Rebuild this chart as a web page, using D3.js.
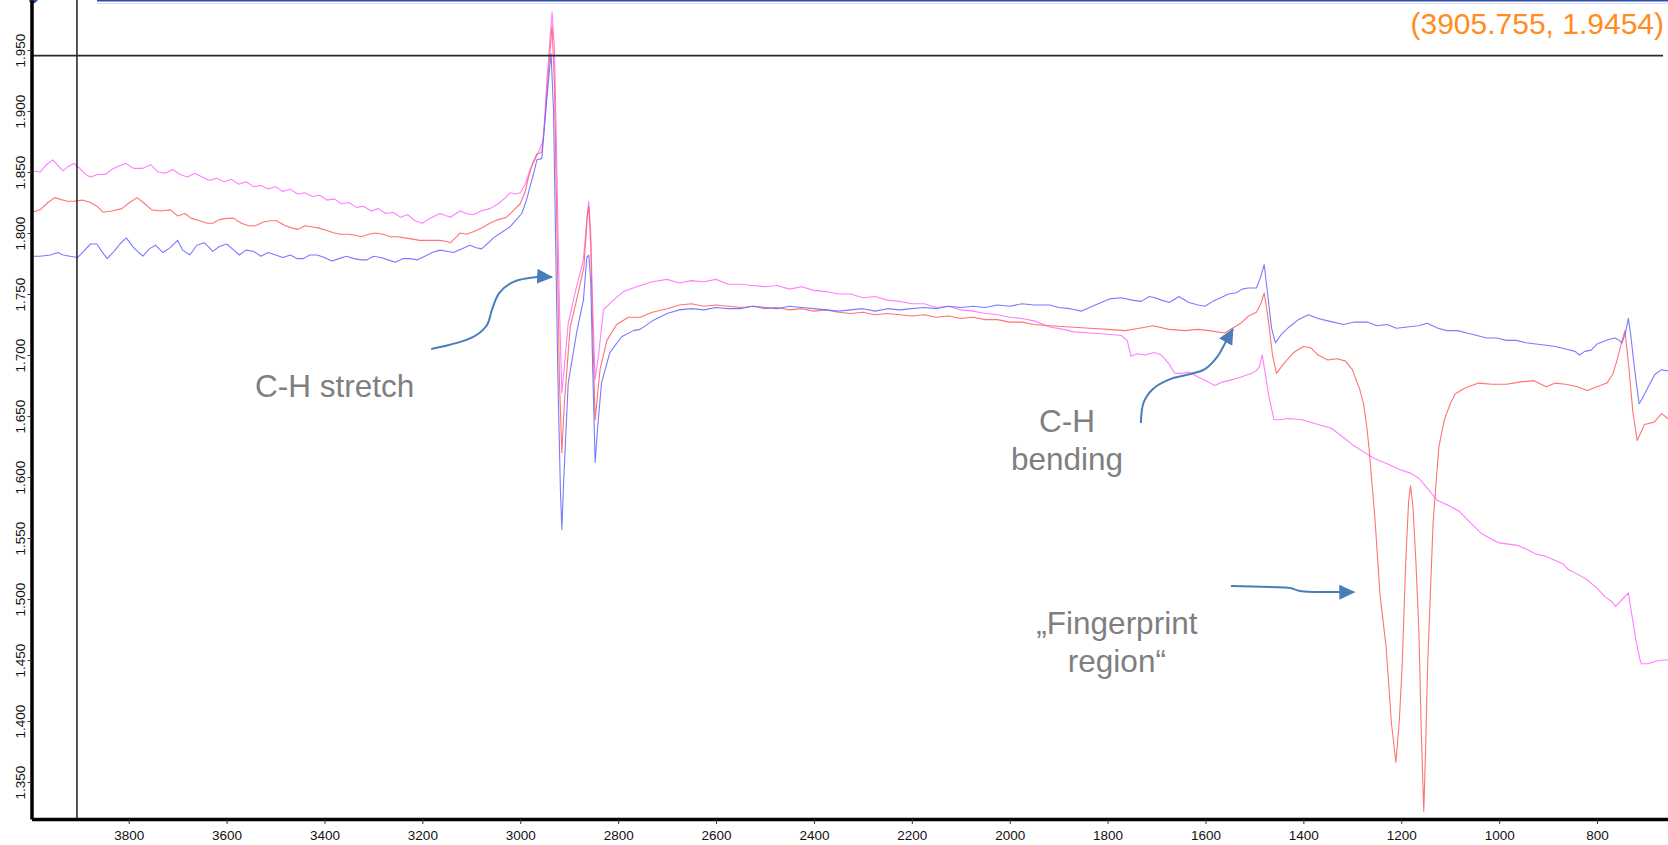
<!DOCTYPE html>
<html>
<head>
<meta charset="utf-8">
<script src="https://d3js.org/d3.v7.min.js"></script>
<style>
  body { margin: 0; background: #fff; }
  svg { display: block; font-family: "Liberation Sans", Arial, sans-serif; }
</style>
</head>
<body>
<svg id="chart" width="1668" height="845"></svg>
<script>
// IR spectra, [wavenumber cm-1, absorbance]
const sampleMagenta = [
  [3998,1.851],[3981,1.850],[3968,1.856],[3955,1.860],[3944,1.855],[3934,1.851],[3922,1.855],[3912,1.857],
  [3900,1.853],[3888,1.848],[3878,1.846],[3863,1.848],[3848,1.848],[3835,1.852],[3820,1.855],[3806,1.857],
  [3790,1.853],[3771,1.853],[3755,1.856],[3740,1.850],[3725,1.849],[3710,1.852],[3695,1.848],[3680,1.846],
  [3665,1.849],[3650,1.846],[3635,1.843],[3620,1.845],[3605,1.842],[3590,1.844],[3575,1.840],[3560,1.842],
  [3545,1.838],[3530,1.839],[3515,1.836],[3500,1.838],[3485,1.834],[3470,1.836],[3455,1.832],[3440,1.833],
  [3425,1.830],[3410,1.831],[3395,1.827],[3380,1.828],[3365,1.824],[3350,1.825],[3335,1.821],[3320,1.822],
  [3305,1.818],[3290,1.820],[3275,1.816],[3260,1.817],[3245,1.813],[3230,1.815],[3215,1.810],[3200,1.808],
  [3185,1.812],[3164,1.816],[3143,1.813],[3123,1.818],[3110,1.816],[3096,1.815],[3080,1.818],[3062,1.820],
  [3045,1.824],[3030,1.829],[3021,1.833],[3010,1.832],[3000,1.833],[2990,1.840],[2980,1.852],[2970,1.860],
  [2963,1.866],[2953,1.876],[2946,1.922],[2940,1.955],[2935,1.981],[2930,1.950],[2925,1.850],[2920,1.740],
  [2915,1.669],[2910,1.690],[2902,1.726],[2888,1.751],[2871,1.778],[2863,1.816],[2860,1.826],[2856,1.800],
  [2852,1.740],[2847,1.680],[2840,1.700],[2830,1.737],[2810,1.745],[2789,1.752],[2755,1.757],[2730,1.760],
  [2700,1.762],[2675,1.759],[2650,1.761],[2625,1.760],[2600,1.762],[2575,1.758],[2550,1.758],[2525,1.757],
  [2500,1.756],[2475,1.757],[2450,1.754],[2425,1.756],[2400,1.753],[2375,1.752],[2350,1.750],[2325,1.750],
  [2300,1.747],[2275,1.748],[2250,1.745],[2225,1.744],[2200,1.742],[2175,1.742],[2150,1.739],[2125,1.740],
  [2100,1.737],[2075,1.736],[2050,1.734],[2025,1.733],[2000,1.731],[1975,1.730],[1950,1.728],[1918,1.723],
  [1890,1.721],[1869,1.719],[1836,1.718],[1800,1.717],[1772,1.716],[1760,1.712],[1752,1.699],[1740,1.701],
  [1723,1.700],[1705,1.702],[1690,1.700],[1675,1.693],[1663,1.685],[1648,1.685],[1634,1.686],[1615,1.682],
  [1595,1.678],[1581,1.675],[1565,1.678],[1553,1.679],[1535,1.681],[1520,1.683],[1505,1.685],[1497,1.687],
  [1490,1.690],[1484,1.700],[1478,1.685],[1470,1.665],[1460,1.647],[1448,1.647],[1430,1.648],[1403,1.647],
  [1370,1.643],[1343,1.640],[1320,1.633],[1298,1.626],[1275,1.620],[1254,1.615],[1230,1.611],[1202,1.606],
  [1180,1.603],[1164,1.599],[1145,1.590],[1127,1.581],[1100,1.576],[1082,1.572],[1060,1.563],[1037,1.554],
  [1015,1.549],[1000,1.546],[980,1.545],[963,1.544],[940,1.540],[926,1.537],[905,1.535],[888,1.532],
  [870,1.529],[858,1.524],[838,1.520],[821,1.516],[800,1.509],[784,1.502],[770,1.498],[762,1.494],
  [750,1.499],[736,1.505],[728,1.485],[720,1.465],[712,1.450],[709,1.447],[695,1.447],[680,1.449],
  [665,1.450],[655,1.450]
];

const sampleRed = [
  [3998,1.817],[3981,1.819],[3965,1.825],[3951,1.829],[3935,1.827],[3925,1.826],[3912,1.826],[3895,1.827],
  [3878,1.825],[3865,1.822],[3852,1.817],[3835,1.818],[3814,1.820],[3798,1.825],[3783,1.829],[3770,1.825],
  [3753,1.819],[3735,1.818],[3715,1.819],[3700,1.814],[3685,1.816],[3672,1.812],[3655,1.810],[3640,1.808],
  [3628,1.808],[3615,1.811],[3600,1.812],[3585,1.812],[3570,1.808],[3555,1.806],[3541,1.806],[3525,1.809],
  [3510,1.810],[3498,1.810],[3480,1.806],[3465,1.804],[3454,1.803],[3440,1.806],[3425,1.805],[3411,1.804],
  [3395,1.802],[3380,1.800],[3367,1.799],[3350,1.799],[3335,1.798],[3324,1.797],[3310,1.799],[3295,1.800],
  [3280,1.799],[3265,1.797],[3250,1.797],[3237,1.796],[3220,1.795],[3205,1.794],[3193,1.794],[3180,1.794],
  [3164,1.794],[3150,1.793],[3143,1.792],[3130,1.797],[3123,1.800],[3110,1.799],[3096,1.801],[3080,1.804],
  [3062,1.808],[3045,1.811],[3028,1.813],[3015,1.818],[3000,1.824],[2990,1.834],[2983,1.846],[2975,1.857],
  [2966,1.865],[2956,1.866],[2949,1.895],[2942,1.935],[2935,1.970],[2930,1.920],[2925,1.800],[2920,1.680],
  [2915,1.620],[2910,1.660],[2898,1.723],[2885,1.745],[2870,1.772],[2863,1.813],[2860,1.822],[2856,1.790],
  [2852,1.720],[2847,1.647],[2837,1.688],[2823,1.712],[2803,1.725],[2779,1.731],[2755,1.731],[2730,1.735],
  [2700,1.738],[2675,1.741],[2650,1.742],[2625,1.740],[2600,1.741],[2575,1.740],[2550,1.739],[2525,1.740],
  [2500,1.738],[2475,1.739],[2450,1.737],[2425,1.738],[2400,1.736],[2375,1.737],[2350,1.735],[2325,1.734],
  [2300,1.735],[2275,1.733],[2250,1.734],[2225,1.733],[2200,1.732],[2175,1.733],[2150,1.731],[2125,1.732],
  [2100,1.730],[2075,1.731],[2050,1.729],[2025,1.729],[2000,1.727],[1975,1.727],[1950,1.725],[1918,1.724],
  [1877,1.723],[1836,1.722],[1800,1.721],[1764,1.720],[1735,1.722],[1707,1.724],[1675,1.721],[1642,1.720],
  [1615,1.721],[1593,1.720],[1561,1.718],[1545,1.722],[1528,1.726],[1512,1.732],[1496,1.735],[1487,1.742],
  [1480,1.751],[1472,1.730],[1463,1.700],[1455,1.685],[1440,1.693],[1420,1.702],[1400,1.707],[1385,1.706],
  [1370,1.700],[1350,1.696],[1330,1.697],[1314,1.695],[1300,1.688],[1285,1.672],[1277,1.660],[1270,1.640],
  [1265,1.620],[1254,1.567],[1243,1.502],[1231,1.461],[1220,1.398],[1211,1.366],[1204,1.400],[1198,1.447],
  [1191,1.529],[1185,1.580],[1181,1.593],[1176,1.575],[1170,1.530],[1164,1.474],[1159,1.390],[1154,1.326],
  [1150,1.380],[1146,1.447],[1140,1.510],[1135,1.562],[1128,1.600],[1123,1.625],[1112,1.647],[1100,1.660],
  [1090,1.668],[1070,1.673],[1042,1.677],[1015,1.676],[985,1.676],[955,1.678],[929,1.679],[904,1.674],
  [885,1.677],[864,1.676],[840,1.674],[820,1.671],[800,1.674],[780,1.677],[768,1.684],[759,1.696],
  [750,1.710],[743,1.720],[735,1.690],[727,1.654],[718,1.630],[703,1.643],[683,1.645],[668,1.652],
  [655,1.648]
];

const sampleBlue = [
  [3998,1.781],[3981,1.781],[3960,1.782],[3945,1.784],[3934,1.782],[3920,1.781],[3904,1.780],[3890,1.786],
  [3878,1.791],[3865,1.791],[3855,1.785],[3844,1.779],[3830,1.785],[3818,1.791],[3805,1.796],[3790,1.788],
  [3771,1.781],[3758,1.787],[3745,1.790],[3730,1.784],[3715,1.788],[3700,1.794],[3690,1.786],[3675,1.782],
  [3661,1.790],[3645,1.792],[3628,1.785],[3615,1.789],[3600,1.791],[3585,1.786],[3574,1.782],[3560,1.786],
  [3545,1.785],[3530,1.781],[3515,1.784],[3500,1.782],[3485,1.780],[3470,1.782],[3455,1.779],[3443,1.779],
  [3430,1.782],[3415,1.782],[3400,1.780],[3385,1.777],[3370,1.779],[3355,1.781],[3340,1.779],[3325,1.778],
  [3313,1.778],[3300,1.781],[3285,1.780],[3270,1.778],[3255,1.776],[3240,1.779],[3225,1.779],[3210,1.778],
  [3195,1.781],[3180,1.784],[3164,1.786],[3150,1.785],[3137,1.784],[3120,1.787],[3103,1.790],[3090,1.788],
  [3079,1.787],[3065,1.792],[3055,1.796],[3040,1.800],[3021,1.805],[3010,1.810],[2997,1.816],[2988,1.826],
  [2980,1.838],[2972,1.850],[2966,1.860],[2956,1.861],[2950,1.890],[2946,1.909],[2940,1.935],[2937,1.947],
  [2932,1.900],[2928,1.800],[2923,1.680],[2918,1.590],[2915,1.557],[2911,1.600],[2902,1.677],[2885,1.718],
  [2871,1.745],[2864,1.780],[2860,1.782],[2856,1.760],[2852,1.690],[2847,1.612],[2842,1.640],[2834,1.677],
  [2817,1.702],[2793,1.715],[2769,1.720],[2755,1.721],[2730,1.728],[2700,1.734],[2675,1.737],[2650,1.738],
  [2625,1.737],[2600,1.739],[2575,1.738],[2550,1.738],[2525,1.740],[2500,1.739],[2475,1.738],[2450,1.740],
  [2425,1.739],[2400,1.738],[2375,1.737],[2350,1.736],[2325,1.737],[2300,1.738],[2275,1.736],[2250,1.738],
  [2225,1.737],[2200,1.738],[2175,1.739],[2150,1.738],[2125,1.740],[2100,1.739],[2075,1.740],[2050,1.739],
  [2025,1.741],[2000,1.740],[1975,1.742],[1950,1.741],[1918,1.741],[1900,1.739],[1877,1.738],[1853,1.736],
  [1825,1.741],[1796,1.746],[1772,1.747],[1750,1.745],[1731,1.744],[1715,1.748],[1703,1.747],[1690,1.745],
  [1674,1.743],[1654,1.748],[1634,1.743],[1615,1.741],[1601,1.740],[1585,1.744],[1569,1.747],[1553,1.750],
  [1537,1.751],[1525,1.754],[1513,1.755],[1496,1.755],[1488,1.763],[1480,1.774],[1473,1.750],[1465,1.722],
  [1457,1.710],[1445,1.717],[1429,1.723],[1410,1.729],[1390,1.733],[1370,1.730],[1350,1.728],[1318,1.725],
  [1295,1.727],[1269,1.727],[1250,1.724],[1229,1.725],[1210,1.722],[1188,1.723],[1165,1.724],[1147,1.726],
  [1125,1.722],[1107,1.720],[1085,1.720],[1066,1.718],[1045,1.716],[1026,1.714],[1005,1.714],[985,1.712],
  [965,1.712],[945,1.710],[925,1.709],[904,1.708],[885,1.707],[864,1.705],[845,1.703],[836,1.700],
  [825,1.703],[812,1.704],[800,1.709],[787,1.711],[775,1.713],[763,1.714],[755,1.712],[749,1.710],
  [742,1.718],[736,1.730],[731,1.716],[726,1.698],[720,1.678],[714,1.660],[708,1.664],[698,1.672],
  [682,1.684],[668,1.688],[655,1.687]
];

const xTicks = [3800, 3600, 3400, 3200, 3000, 2800, 2600, 2400, 2200, 2000, 1800, 1600, 1400, 1200, 1000, 800];
const yTicks = [1.35, 1.40, 1.45, 1.50, 1.55, 1.60, 1.65, 1.70, 1.75, 1.80, 1.85, 1.90, 1.95];

// cursor readout
const cursor = [3905.755, 1.9454];

// annotations, in data units
const noteTexts = [
  { lines: ['C-H stretch'], at: [3542, 1.6656], anchor: 'start' },
  { lines: ['C-H', 'bending'], at: [1883, 1.6369], anchor: 'middle' },
  { lines: ['\u201EFingerprint', 'region\u201C'], at: [1781, 1.4713], anchor: 'middle' }
];
const stretchArrow = [[3182,1.7049],[3096,1.7148],[3068,1.7246],[3058,1.7369],[3043,1.7508],[3015,1.7598],[2966,1.7639],[2935,1.7639]];
const bendingArrow = [[1732,1.6443],[1726,1.6615],[1705,1.6730],[1672,1.6803],[1640,1.6836],[1601,1.6885],[1576,1.6984],[1562,1.7082],[1544,1.7213]];
const fingerprintArrow = [[1548,1.5107],[1468,1.5098],[1427,1.5090],[1407,1.5066],[1325,1.5057],[1296,1.5057]];

const W = 1668, H = 845;
const axisY = 819, axisX = 31.5;

const svg = d3.select('#chart');

const x = d3.scaleLinear().domain([3998.6, 655]).range([axisX, W]);
const y = d3.scaleLinear().domain([1.3197, 1.991]).range([axisY, 0]);

svg.append('rect').attr('width', W).attr('height', H).attr('fill', '#fff');

// window chrome at top edge
svg.append('line')
    .attr('x1', 97).attr('x2', W).attr('y1', 0.8).attr('y2', 0.8)
    .attr('stroke', '#2f4fa8').attr('stroke-width', 1.6);
svg.append('line')
    .attr('x1', 97).attr('x2', W).attr('y1', 3.5).attr('y2', 3.5)
    .attr('stroke', '#d8deef').attr('stroke-width', 1);
svg.append('path')
    .attr('d', 'M29,0 L38,0 L35,3 L30,3 Z')
    .attr('fill', '#2f4fa8');

svg.append('defs').append('clipPath').attr('id', 'plot-clip')
    .append('rect').attr('x', axisX).attr('y', 0).attr('width', W - axisX).attr('height', axisY);

// spectra
const line = d3.line()
    .x(d => x(d[0]))
    .y(d => y(d[1]));

const series = [
  { data: sampleMagenta, color: '#ff70ff' },
  { data: sampleRed, color: '#ff6464' },
  { data: sampleBlue, color: '#6c6cff' }
];

const plot = svg.append('g').attr('clip-path', 'url(#plot-clip)');
plot.selectAll('path.spectrum')
    .data(series)
    .enter()
    .append('path')
    .attr('class', 'spectrum')
    .attr('d', d => line(d.data))
    .attr('fill', 'none')
    .attr('stroke', d => d.color)
    .attr('stroke-width', 1.1)
    .attr('stroke-linejoin', 'round')
    .style('opacity', 0.9);

// cursor crosshair
svg.append('line')
    .attr('x1', x(cursor[0])).attr('x2', x(cursor[0]))
    .attr('y1', 0).attr('y2', axisY)
    .attr('stroke', '#2a2a2a').attr('stroke-width', 1.6);
svg.append('line')
    .attr('x1', axisX).attr('x2', 1663)
    .attr('y1', y(cursor[1])).attr('y2', y(cursor[1]))
    .attr('stroke', '#2a2a2a').attr('stroke-width', 1.6);

svg.append('text')
    .attr('x', 1664)
    .attr('y', 34)
    .attr('text-anchor', 'end')
    .attr('fill', '#ff8c21')
    .attr('font-size', '30px')
    .text(`(${cursor[0].toFixed(3)}, ${cursor[1].toFixed(4)})`);

// axes
const xAxis = svg.append('g')
    .attr('transform', `translate(0,${axisY})`)
    .call(d3.axisBottom(x).tickValues(xTicks).tickSize(5).tickSizeOuter(0).tickFormat(d3.format('d')));
xAxis.select('.domain').attr('stroke', '#000').attr('stroke-width', 3.3);
xAxis.selectAll('.tick line').attr('stroke', '#333').attr('stroke-width', 1);
xAxis.selectAll('.tick text')
    .attr('y', 11)
    .attr('fill', '#111')
    .attr('font-size', '13.5px')
    .attr('font-family', '"Liberation Sans", Arial, sans-serif');

const yAxis = svg.append('g')
    .attr('transform', `translate(${axisX},0)`)
    .call(d3.axisLeft(y).tickValues(yTicks).tickSize(4).tickSizeOuter(0).tickFormat(d3.format('.3f')));
yAxis.select('.domain').attr('stroke', '#000').attr('stroke-width', 3.5);
yAxis.selectAll('.tick line').attr('stroke', '#333').attr('stroke-width', 1);
yAxis.selectAll('.tick text')
    .attr('x', null)
    .attr('dy', null)
    .attr('text-anchor', 'middle')
    .attr('transform', 'translate(-6.5,0) rotate(-90)')
    .attr('fill', '#111')
    .attr('font-size', '13.5px')
    .attr('font-family', '"Liberation Sans", Arial, sans-serif');

// annotations
svg.select('defs').append('marker')
    .attr('id', 'head')
    .attr('markerUnits', 'userSpaceOnUse')
    .attr('viewBox', '0 0 16 16')
    .attr('markerWidth', 16)
    .attr('markerHeight', 16)
    .attr('refX', 15)
    .attr('refY', 8)
    .attr('orient', 'auto')
    .append('path')
    .attr('d', 'M0,0.5 L16,8 L0,15.5 Z')
    .attr('fill', '#4a7ebb');

const arrowLine = d3.line()
    .x(d => x(d[0]))
    .y(d => y(d[1]))
    .curve(d3.curveCatmullRom.alpha(0.5));

svg.selectAll('path.arrow')
    .data([stretchArrow, bendingArrow, fingerprintArrow])
    .enter()
    .append('path')
    .attr('class', 'arrow')
    .attr('d', arrowLine)
    .attr('fill', 'none')
    .attr('stroke', '#4a7ebb')
    .attr('stroke-width', 2)
    .attr('marker-end', 'url(#head)');

noteTexts.forEach(n => {
    const t = svg.append('text')
        .attr('x', x(n.at[0]))
        .attr('y', y(n.at[1]))
        .attr('text-anchor', n.anchor)
        .attr('fill', '#7f7f7f')
        .attr('font-size', '31.5px');
    n.lines.forEach((s, i) => {
        t.append('tspan')
            .attr('x', x(n.at[0]))
            .attr('dy', i === 0 ? 0 : 38)
            .text(s);
    });
});
</script>
</body>
</html>
